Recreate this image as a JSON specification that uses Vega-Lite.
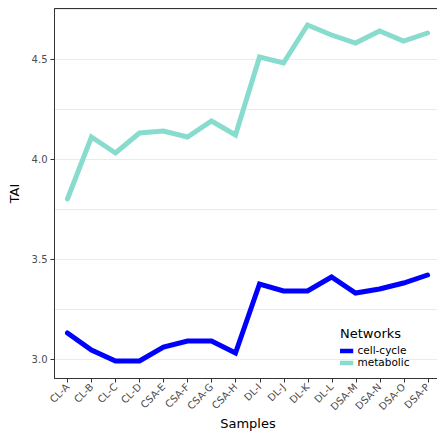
{
  "$schema": "https://vega.github.io/schema/vega-lite/v6.json",
  "width": 387,
  "height": 370,
  "padding": {"top": 8, "left": 8, "right": 0, "bottom": 0},
  "config": {
    "font": "DejaVu Sans",
    "view": {"stroke": "#333333", "strokeWidth": 1},
    "axis": {"domain": false}
  },
  "data": {
    "values": [
      {"sample": "CL-A", "network": "cell-cycle", "TAI": 3.13},
      {"sample": "CL-B", "network": "cell-cycle", "TAI": 3.045},
      {"sample": "CL-C", "network": "cell-cycle", "TAI": 2.99},
      {"sample": "CL-D", "network": "cell-cycle", "TAI": 2.99},
      {"sample": "CSA-E", "network": "cell-cycle", "TAI": 3.06},
      {"sample": "CSA-F", "network": "cell-cycle", "TAI": 3.09},
      {"sample": "CSA-G", "network": "cell-cycle", "TAI": 3.09},
      {"sample": "CSA-H", "network": "cell-cycle", "TAI": 3.03},
      {"sample": "DL-I", "network": "cell-cycle", "TAI": 3.375},
      {"sample": "DL-J", "network": "cell-cycle", "TAI": 3.34},
      {"sample": "DL-K", "network": "cell-cycle", "TAI": 3.34},
      {"sample": "DL-L", "network": "cell-cycle", "TAI": 3.41},
      {"sample": "DSA-M", "network": "cell-cycle", "TAI": 3.33},
      {"sample": "DSA-N", "network": "cell-cycle", "TAI": 3.35},
      {"sample": "DSA-O", "network": "cell-cycle", "TAI": 3.38},
      {"sample": "DSA-P", "network": "cell-cycle", "TAI": 3.42},
      {"sample": "CL-A", "network": "metabolic", "TAI": 3.80},
      {"sample": "CL-B", "network": "metabolic", "TAI": 4.11},
      {"sample": "CL-C", "network": "metabolic", "TAI": 4.03},
      {"sample": "CL-D", "network": "metabolic", "TAI": 4.13},
      {"sample": "CSA-E", "network": "metabolic", "TAI": 4.14},
      {"sample": "CSA-F", "network": "metabolic", "TAI": 4.11},
      {"sample": "CSA-G", "network": "metabolic", "TAI": 4.19},
      {"sample": "CSA-H", "network": "metabolic", "TAI": 4.12},
      {"sample": "DL-I", "network": "metabolic", "TAI": 4.51},
      {"sample": "DL-J", "network": "metabolic", "TAI": 4.48},
      {"sample": "DL-K", "network": "metabolic", "TAI": 4.67},
      {"sample": "DL-L", "network": "metabolic", "TAI": 4.62},
      {"sample": "DSA-M", "network": "metabolic", "TAI": 4.58},
      {"sample": "DSA-N", "network": "metabolic", "TAI": 4.64},
      {"sample": "DSA-O", "network": "metabolic", "TAI": 4.59},
      {"sample": "DSA-P", "network": "metabolic", "TAI": 4.63}
    ]
  },
  "mark": {"type": "line", "strokeWidth": 5, "strokeCap": "round", "strokeJoin": "miter"},
  "encoding": {
    "x": {
      "field": "sample",
      "type": "ordinal",
      "sort": null,
      "scale": {"type": "point", "padding": 0.56},
      "axis": {
        "title": "Samples",
        "titleFontSize": 13,
        "titleFontWeight": "normal",
        "titleColor": "#000000",
        "titlePadding": 6,
        "labelAngle": -45,
        "labelAlign": "right",
        "labelBaseline": "middle",
        "labelFontSize": 10,
        "labelColor": "#4d4d4d",
        "labelPadding": 3,
        "tickColor": "#333333",
        "tickSize": 4,
        "domain": true,
        "domainColor": "#333333",
        "grid": false
      }
    },
    "y": {
      "field": "TAI",
      "type": "quantitative",
      "scale": {"domain": [2.905, 4.755], "nice": false, "zero": false},
      "axis": {
        "title": "TAI",
        "titleFontSize": 13,
        "titleFontWeight": "normal",
        "titleColor": "#000000",
        "titlePadding": 10,
        "values": [3.0, 3.25, 3.5, 3.75, 4.0, 4.25, 4.5, 4.75],
        "labelExpr": "datum.value % 0.5 === 0 ? format(datum.value, '.1f') : ''",
        "labelFontSize": 10,
        "labelColor": "#4d4d4d",
        "labelPadding": 3,
        "tickColor": "#333333",
        "tickSize": 4,
        "tickOpacity": {"condition": {"test": "datum.value % 0.5 !== 0", "value": 0}, "value": 1},
        "grid": true,
        "gridColor": "#ebebeb",
        "gridWidth": 1,
        "domain": true,
        "domainColor": "#333333"
      }
    },
    "color": {
      "field": "network",
      "type": "nominal",
      "scale": {"domain": ["cell-cycle", "metabolic"], "range": ["#0000ff", "#88dccd"]},
      "legend": {
        "title": "Networks",
        "orient": "none",
        "legendX": 286,
        "legendY": 320,
        "padding": 0,
        "titleFontSize": 13,
        "titleFontWeight": "normal",
        "titleColor": "#000000",
        "titlePadding": 4,
        "labelFontSize": 10.5,
        "labelColor": "#000000",
        "symbolType": "M-4,0H4",
        "symbolStrokeWidth": 4.5,
        "symbolSize": 16,
        "clipHeight": 12,
        "rowPadding": 0,
        "labelOffset": 7
      }
    }
  }
}
